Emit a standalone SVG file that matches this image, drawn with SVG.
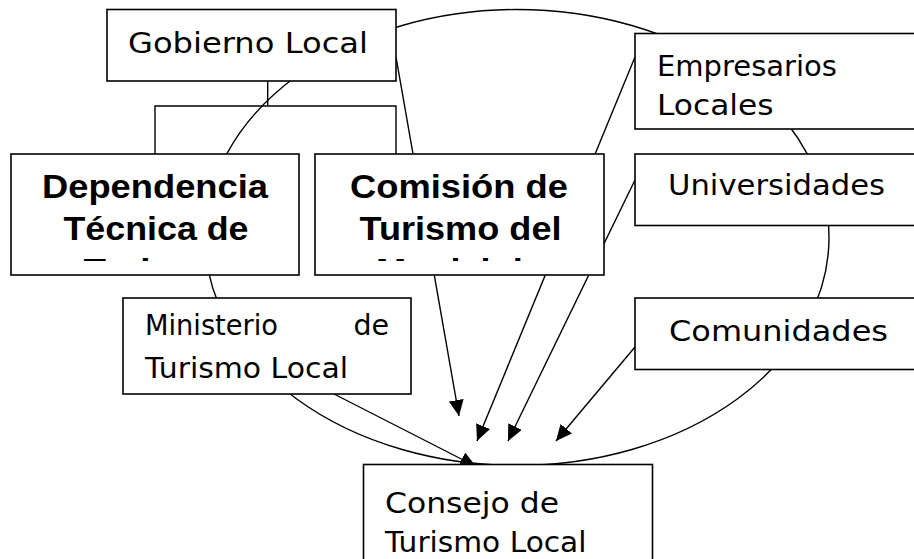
<svg xmlns="http://www.w3.org/2000/svg" width="914" height="559" viewBox="0 0 914 559">
<style>
.box{fill:#fff;stroke:#000;stroke-width:1.6}
.ln{fill:none;stroke:#000;stroke-width:1.4}
.t{font-family:"DejaVu Sans","Liberation Sans",sans-serif;font-size:28.5px;fill:#000}
.b{font-family:"Liberation Sans",Arial,sans-serif;font-size:33px;font-weight:bold;fill:#000}
</style>
<defs>
<marker id="ah" markerUnits="userSpaceOnUse" markerWidth="17" markerHeight="16" refX="16" refY="7.5" orient="auto">
<path d="M0,0 L16,7.5 L0,15 z" fill="#000"/>
</marker>
<clipPath id="clipDep"><rect x="11" y="154" width="288" height="107"/></clipPath>
<clipPath id="clipCom"><rect x="315" y="154" width="289" height="107"/></clipPath>
</defs>
<rect width="914" height="559" fill="#fff"/>
<g id="ellipse">
<ellipse cx="517" cy="237.5" rx="312" ry="228" class="ln"/>
</g>
<g id="connectors">
<polyline class="ln" points="267.7,81 267.7,106"/>
<polyline class="ln" points="155,154 155,106 396,106 396,154"/>
<line class="ln" x1="396" y1="57" x2="459" y2="416" marker-end="url(#ah)"/>
<line class="ln" x1="635" y1="57" x2="477" y2="441" marker-end="url(#ah)"/>
<line class="ln" x1="635" y1="180" x2="508" y2="441" marker-end="url(#ah)"/>
<line class="ln" x1="635" y1="347" x2="556" y2="441" marker-end="url(#ah)"/>
<line class="ln" x1="334" y1="394" x2="476" y2="466.5" marker-end="url(#ah)"/>
</g>
<g id="gobierno">
<rect class="box" x="107" y="9.5" width="289" height="71.5"/>
<text class="t" x="128" y="53" textLength="240" lengthAdjust="spacingAndGlyphs">Gobierno Local</text>
</g>
<g id="dependencia">
<rect class="box" x="11" y="154" width="288" height="121"/>
<g clip-path="url(#clipDep)">
<text class="b" x="42" y="197.5" textLength="226" lengthAdjust="spacingAndGlyphs">Dependencia</text>
<text class="b" x="63.5" y="240" textLength="185" lengthAdjust="spacingAndGlyphs">Técnica de</text>
<text class="b" x="83.5" y="282" textLength="143" lengthAdjust="spacingAndGlyphs">Turismo</text>
</g>
</g>
<g id="comision">
<rect class="box" x="315" y="154" width="289" height="121"/>
<g clip-path="url(#clipCom)">
<text class="b" x="350" y="197.5" textLength="218" lengthAdjust="spacingAndGlyphs">Comisión de</text>
<text class="b" x="359.5" y="240" textLength="202" lengthAdjust="spacingAndGlyphs">Turismo del</text>
<text class="b" x="376" y="282" textLength="169" lengthAdjust="spacingAndGlyphs">Municipio</text>
</g>
</g>
<g id="empresarios">
<rect class="box" x="635" y="33.5" width="300" height="95.5"/>
<text class="t" x="657" y="76" textLength="180" lengthAdjust="spacingAndGlyphs">Empresarios</text>
<text class="t" x="657" y="115" textLength="116.5" lengthAdjust="spacingAndGlyphs">Locales</text>
</g>
<g id="universidades">
<rect class="box" x="635" y="154" width="300" height="71.5"/>
<text class="t" x="668" y="195" textLength="217" lengthAdjust="spacingAndGlyphs">Universidades</text>
</g>
<g id="ministerio">
<rect class="box" x="123" y="298" width="288" height="96"/>
<text class="t" x="145" y="335" textLength="133" lengthAdjust="spacingAndGlyphs">Ministerio</text>
<text class="t" x="389" y="335" text-anchor="end">de</text>
<text class="t" x="145" y="378" textLength="203" lengthAdjust="spacingAndGlyphs">Turismo Local</text>
</g>
<g id="comunidades">
<rect class="box" x="635" y="298" width="300" height="71.5"/>
<text class="t" x="669" y="340.5" textLength="219" lengthAdjust="spacingAndGlyphs">Comunidades</text>
</g>
<g id="consejo">
<rect class="box" x="363.5" y="464.5" width="289" height="110"/>
<text class="t" x="385" y="513" textLength="174" lengthAdjust="spacingAndGlyphs">Consejo de</text>
<text class="t" x="385" y="551.5" textLength="201.5" lengthAdjust="spacingAndGlyphs">Turismo Local</text>
</g>
</svg>
